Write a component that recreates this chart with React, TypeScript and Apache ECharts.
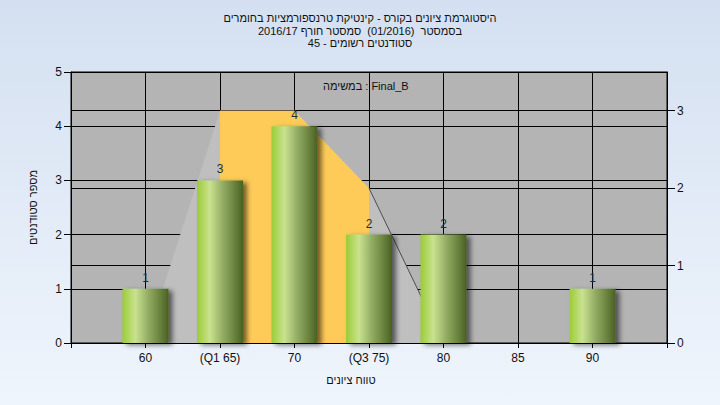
import React, { useEffect, useRef } from 'react';
import * as echarts from 'echarts';

const FONT = 'Arial, "Liberation Sans", "DejaVu Sans", sans-serif';

const titleLines = [
  'היסטוגרמת ציונים בקורס - קינטיקת טרנספורמציות בחומרים',
  'בסמסטר  (01/2016)  סמסטר חורף 2016/17',
  'סטודנטים רשומים - 45',
];
const seriesName = 'במשימה : Final_B';
const xAxisName = 'טווח ציונים';
const yAxisName = 'מספר סטודנטים';

const grades = [60, 65, 70, 75, 80, 85, 90];
const gradeLabels = ['60', '(Q1 65)', '70', '(Q3 75)', '80', '85', '90'];
const counts = [1, 3, 4, 2, 2, 0, 1];

// distribution overlay (right axis)
const curveX = [60, 65, 70, 75, 80];
const curveY = [0, 3, 3, 2, 0];
const iqrX = [65, 70, 75];
const iqrY = [3, 3, 2];
const tailX = [75, 80];
const tailY = [2, 0];

const rightTicks = [0, 1, 2, 3];

export default function App() {
  const ref = useRef<HTMLDivElement>(null);

  useEffect(() => {
    if (!ref.current) return;
    const chart = echarts.init(ref.current, undefined, { renderer: 'svg' });

    const barGradient = new echarts.graphic.LinearGradient(0, 0, 1, 0, [
      { offset: 0, color: '#9bcc36' },
      { offset: 0.28, color: '#c9e28f' },
      { offset: 0.55, color: '#95ae66' },
      { offset: 0.8, color: '#6b8540' },
      { offset: 1, color: '#4a6023' },
    ]);

    const barData = grades
      .map((g, i) => [g, counts[i]])
      .filter((d) => d[1] > 0);

    const option: any = {
      animation: false,
      backgroundColor: new echarts.graphic.LinearGradient(0, 0, 0, 1, [
        { offset: 0, color: '#d4e0f1' },
        { offset: 1, color: '#eff5fc' },
      ]),
      textStyle: { fontFamily: FONT },
      title: {
        text: titleLines.join('\n'),
        left: 'center',
        top: 12,
        padding: 0,
        textStyle: {
          fontSize: 11,
          fontWeight: 'normal',
          color: '#111',
          lineHeight: 12.5,
          fontFamily: FONT,
        },
      },
      legend: {
        data: [{ name: seriesName, icon: 'none' }],
        top: 79,
        left: 318,
        padding: 0,
        itemWidth: 0,
        itemGap: 0,
        selectedMode: false,
        textStyle: { fontSize: 11, color: '#111', fontFamily: FONT },
      },
      grid: {
        left: 71,
        right: 53,
        top: 72,
        bottom: 62,
        show: true,
        backgroundColor: '#b4b4b4',
        borderColor: '#000',
        borderWidth: 1,
      },
      xAxis: {
        type: 'value',
        min: 55,
        max: 95,
        interval: 5,
        name: xAxisName,
        nameLocation: 'middle',
        nameGap: 31,
        nameTextStyle: { fontSize: 11, color: '#111', padding: [0, 36, 0, 0] },
        axisLine: { show: true, lineStyle: { color: '#000', width: 1 } },
        axisTick: { show: true, length: 5, lineStyle: { color: '#000' } },
        axisLabel: {
          margin: 9,
          fontSize: 12,
          color: '#111',
          formatter: (v: number) => {
            const i = grades.indexOf(v);
            return i >= 0 ? gradeLabels[i] : '';
          },
        },
        splitLine: { show: true, lineStyle: { color: '#000', width: 1 } },
      },
      yAxis: [
        {
          type: 'value',
          position: 'left',
          min: 0,
          max: 5,
          interval: 1,
          name: yAxisName,
          nameLocation: 'middle',
          nameGap: 33,
          nameTextStyle: { fontSize: 11, color: '#111' },
          axisLine: { show: true, lineStyle: { color: '#000', width: 1 } },
          axisTick: { show: true, length: 7, lineStyle: { color: '#000' } },
          axisLabel: { margin: 9, fontSize: 12, color: '#111' },
          splitLine: { show: true, lineStyle: { color: '#000', width: 1 } },
        },
        {
          type: 'value',
          position: 'right',
          min: 0,
          max: 3.5,
          interval: 1,
          axisLine: { show: true, lineStyle: { color: '#000', width: 1 } },
          axisTick: {
            show: true,
            length: 8,
            lineStyle: { color: '#000' },
            customValues: rightTicks,
          },
          axisLabel: {
            margin: 10,
            fontSize: 12,
            color: '#111',
            customValues: rightTicks,
            formatter: (v: number) => (Number.isInteger(v) ? String(v) : ''),
          },
          splitLine: { show: true, lineStyle: { color: '#000', width: 1 } },
        },
      ],
      series: [
        {
          type: 'line',
          name: 'curve',
          yAxisIndex: 1,
          data: curveX.map((x, i) => [x, curveY[i]]),
          symbol: 'none',
          silent: true,
          lineStyle: { opacity: 0, width: 0 },
          areaStyle: { color: '#bfbfbf', opacity: 1 },
          z: 2,
        },
        {
          type: 'line',
          name: 'iqr',
          yAxisIndex: 1,
          data: iqrX.map((x, i) => [x, iqrY[i]]),
          symbol: 'none',
          silent: true,
          lineStyle: { opacity: 0, width: 0 },
          areaStyle: { color: '#fecb58', opacity: 1 },
          z: 3,
        },
        {
          type: 'line',
          name: 'tail',
          yAxisIndex: 1,
          data: tailX.map((x, i) => [x, tailY[i]]),
          symbol: 'none',
          silent: true,
          lineStyle: { color: '#4d4d4d', width: 1 },
          z: 4,
        },
        {
          type: 'bar',
          name: seriesName,
          yAxisIndex: 0,
          data: barData,
          barWidth: 46,
          z: 5,
          itemStyle: {
            color: barGradient,
            shadowColor: 'rgba(0,0,0,0.55)',
            shadowBlur: 5,
            shadowOffsetX: 4,
            shadowOffsetY: 2,
          },
          label: {
            show: true,
            position: 'top',
            distance: 5,
            fontSize: 12,
            color: '#1d2d3d',
            formatter: (p: any) => String(p.value[1]),
          },
        },
      ],
    };

    chart.setOption(option);
    return () => chart.dispose();
  }, []);

  return (
    <div
      ref={ref}
      style={{ position: 'fixed', left: 0, top: 0, width: 720, height: 405 }}
    />
  );
}
